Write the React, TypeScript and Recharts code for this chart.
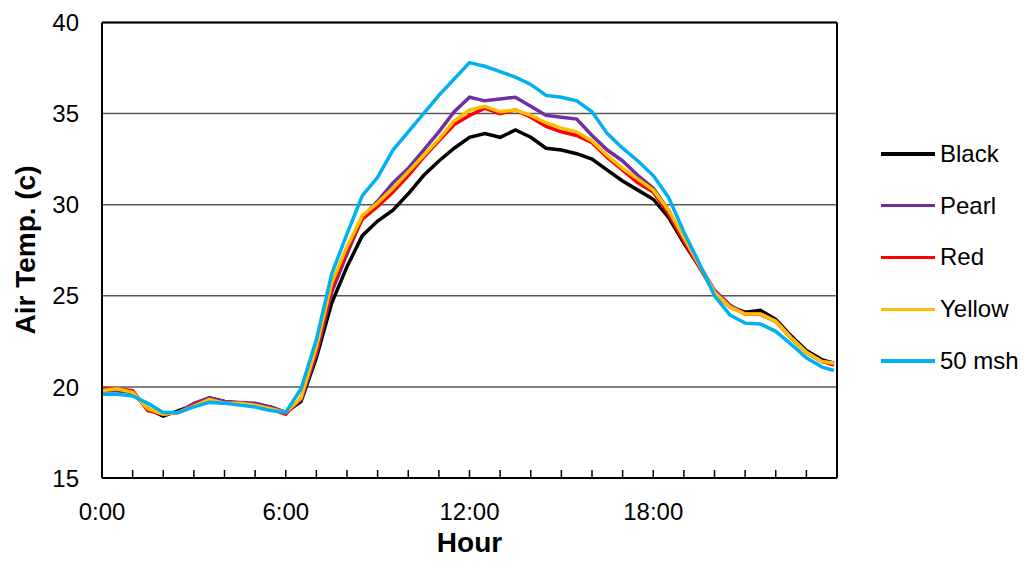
import React from 'react';
import { LineChart, Line, XAxis, YAxis, CartesianGrid, ReferenceLine, Label } from 'recharts';

// time of day in hours (30 min steps)
const hours = [
  0, 0.5, 1, 1.5, 2, 2.5, 3, 3.5, 4, 4.5, 5, 5.5, 6, 6.5, 7, 7.5, 8, 8.5, 9, 9.5, 10, 10.5, 11, 11.5,
  12, 12.5, 13, 13.5, 14, 14.5, 15, 15.5, 16, 16.5, 17, 17.5, 18, 18.5, 19, 19.5, 20, 20.5, 21, 21.5,
  22, 22.5, 23, 23.5, 23.9,
];

const black = [
  19.8, 19.8, 19.7, 18.8, 18.4, 18.7, 19.0, 19.4, 19.2, 19.1, 19.0, 18.9, 18.6, 19.2, 21.6, 24.6, 26.6, 28.3, 29.1, 29.7, 30.6, 31.6, 32.4, 33.1,
  33.7, 33.9, 33.7, 34.1, 33.7, 33.1, 33.0, 32.8, 32.5, 31.9, 31.3, 30.8, 30.3, 29.3, 27.9, 26.6, 25.2, 24.4, 24.1, 24.2,
  23.7, 22.8, 22.0, 21.5, 21.3,
];
const pearl = [
  19.8, 19.8, 19.7, 18.8, 18.5, 18.6, 19.1, 19.4, 19.2, 19.15, 19.1, 18.9, 18.6, 19.3, 21.8, 25.2, 27.3, 29.3, 30.2, 31.2, 32.0, 33.0, 34.0, 35.1,
  35.9, 35.7, 35.8, 35.9, 35.4, 34.9, 34.8, 34.7, 33.8, 33.0, 32.4, 31.6, 30.9, 29.7, 28.1, 26.7, 25.3, 24.5, 24.0, 24.0,
  23.6, 22.7, 21.9, 21.4, 21.3,
];
const red = [
  19.9, 19.9, 19.8, 18.7, 18.5, 18.6, 19.0, 19.3, 19.1, 19.1, 19.0, 18.8, 18.5, 19.4, 22.0, 25.4, 27.5, 29.2, 29.9, 30.7, 31.6, 32.6, 33.5, 34.4,
  34.9, 35.3, 35.0, 35.2, 34.8, 34.3, 34.0, 33.8, 33.4, 32.6, 31.9, 31.2, 30.7, 29.5, 28.0, 26.6, 25.2, 24.4, 24.0, 24.0,
  23.6, 22.7, 21.9, 21.4, 21.2,
];
const yellow = [
  19.8, 19.9, 19.7, 18.8, 18.5, 18.6, 18.95, 19.3, 19.1, 19.1, 19.0, 18.8, 18.6, 19.4, 22.2, 25.7, 27.7, 29.4, 30.1, 30.9, 31.8, 32.7, 33.6, 34.6,
  35.2, 35.4, 35.1, 35.2, 34.9, 34.5, 34.2, 34.0, 33.5, 32.7, 32.0, 31.4, 30.8, 29.7, 28.2, 26.7, 25.2, 24.4, 24.0, 24.0,
  23.6, 22.7, 21.9, 21.4, 21.3,
];
const mesh50 = [
  19.6, 19.6, 19.5, 19.1, 18.6, 18.6, 18.9, 19.15, 19.1, 19.0, 18.9, 18.7, 18.6, 19.9, 22.6, 26.2, 28.4, 30.5, 31.5, 33.0, 34.0, 35.0, 36.0, 36.9,
  37.8, 37.6, 37.3, 37.0, 36.6, 36.0, 35.9, 35.7, 35.1, 33.9, 33.1, 32.4, 31.6, 30.4, 28.5, 26.8, 25.0, 23.95, 23.5, 23.45,
  23.05, 22.35, 21.6, 21.1, 20.9,
];

const hourTicks = Array.from({ length: 25 }, (_, i) => i);
const tempTicks = [15, 20, 25, 30, 35, 40];

const series = [
  { key: 'black', name: 'Black', color: '#000000' },
  { key: 'pearl', name: 'Pearl', color: '#7030A0' },
  { key: 'red', name: 'Red', color: '#FF0000' },
  { key: 'yellow', name: 'Yellow', color: '#FFC000' },
  { key: 'mesh50', name: '50 msh', color: '#00B0F0' },
];

const data = hours.map((h, i) => ({
  h,
  black: black[i],
  pearl: pearl[i],
  red: red[i],
  yellow: yellow[i],
  mesh50: mesh50[i],
}));

const FONT = '"Liberation Sans", Arial, sans-serif';

const XTick = (props: any) => {
  const { x, y, payload } = props;
  const v = payload.value as number;
  return (
    <g>
      <line x1={x} x2={x} y1={y} y2={y - 8} stroke="#000" strokeWidth={1.5} />
      {v % 6 === 0 && v < 24 && (
        <text x={x} y={y + 42} textAnchor="middle" fontSize={24} fill="#000" fontFamily={FONT}>
          {`${v}:00`}
        </text>
      )}
    </g>
  );
};

const YTick = (props: any) => {
  const { x, y, payload } = props;
  return (
    <text x={x - 23} y={y} dy="0.36em" textAnchor="end" fontSize={24} fill="#000" fontFamily={FONT}>
      {payload.value}
    </text>
  );
};

export default function App() {
  return (
    <div style={{ position: 'absolute', left: 0, top: 0, width: 1029, height: 568, background: '#fff' }}>
      <LineChart width={1029} height={568} data={data} margin={{ top: 22.5, right: 192, left: 0, bottom: 0 }}>
        <CartesianGrid vertical={false} stroke="#595959" strokeWidth={1.5} />
        <XAxis
          dataKey="h"
          type="number"
          domain={[0, 24]}
          ticks={hourTicks}
          interval={0}
          height={90}
          tickSize={0}
          tickMargin={0}
          tickLine={false}
          axisLine={{ stroke: '#000', strokeWidth: 2 }}
          tick={<XTick />}
        >
          <Label
            content={() => (
              <text x={469.5} y={552} textAnchor="middle" fontSize={28} fontWeight="bold" fill="#000" fontFamily={FONT}>
                Hour
              </text>
            )}
          />
        </XAxis>
        <YAxis
          type="number"
          domain={[15, 40]}
          ticks={tempTicks}
          width={102}
          tickSize={0}
          tickMargin={0}
          tickLine={false}
          axisLine={{ stroke: '#000', strokeWidth: 2 }}
          tick={<YTick />}
        >
          <Label
            content={() => (
              <text
                x={25}
                y={250}
                transform="rotate(-90 25 250)"
                textAnchor="middle"
                dominantBaseline="central"
                fontSize={28}
                fontWeight="bold"
                fill="#000"
                fontFamily={FONT}
              >
                Air Temp. (c)
              </text>
            )}
          />
        </YAxis>
        <ReferenceLine y={40} stroke="#000" strokeWidth={2} />
        <ReferenceLine x={24} stroke="#000" strokeWidth={2} />
        {series.map(s => (
          <Line
            key={s.key}
            type="linear"
            dataKey={s.key}
            stroke={s.color}
            strokeWidth={3.5}
            dot={false}
            isAnimationActive={false}
          />
        ))}
      </LineChart>
      <div style={{ position: 'absolute', left: 881, top: 128, fontFamily: FONT }}>
        {series.map(s => (
          <div key={s.key} style={{ display: 'flex', alignItems: 'center', height: 51.8 }}>
            <div style={{ width: 54, height: 3.5, background: s.color }} />
            <span style={{ marginLeft: 5, fontSize: 24, color: '#000', lineHeight: '24px' }}>{s.name}</span>
          </div>
        ))}
      </div>
    </div>
  );
}
